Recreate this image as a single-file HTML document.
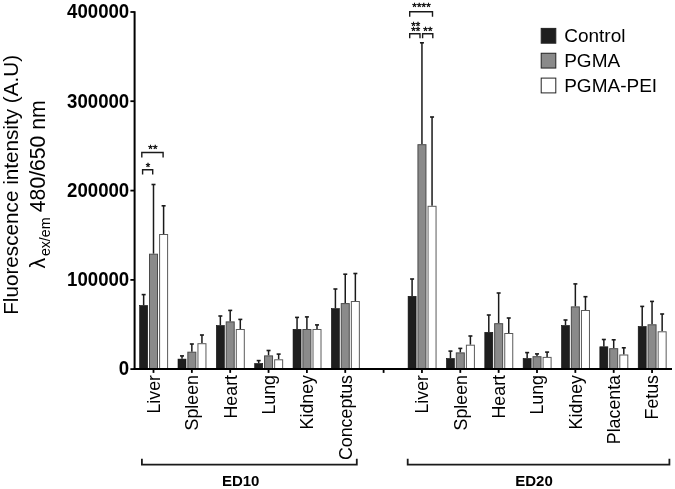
<!DOCTYPE html>
<html><head><meta charset="utf-8"><style>
html,body{margin:0;padding:0;background:#fff;}
body{width:675px;height:489px;overflow:hidden;}
svg{display:block;}
</style></head><body>
<svg width="675" height="489" viewBox="0 0 675 489" font-family='"Liberation Sans", Arial, Helvetica, sans-serif'>
<rect width="675" height="489" fill="#fff"/>
<line x1="143.65" y1="305.20" x2="143.65" y2="294.60" stroke="#1a1a1a" stroke-width="1.5"/>
<line x1="141.65" y1="294.60" x2="145.65" y2="294.60" stroke="#1a1a1a" stroke-width="1.6"/>
<rect x="139.65" y="305.50" width="8.0" height="63.60" fill="#1e1e1e" stroke="#0c0c0c" stroke-width="0.6"/>
<line x1="153.50" y1="253.70" x2="153.50" y2="184.50" stroke="#1a1a1a" stroke-width="1.5"/>
<line x1="151.50" y1="184.50" x2="155.50" y2="184.50" stroke="#1a1a1a" stroke-width="1.6"/>
<rect x="149.50" y="254.20" width="8.0" height="114.90" fill="#8a8a8a" stroke="#4a4a4a" stroke-width="1"/>
<line x1="163.60" y1="234.00" x2="163.60" y2="205.80" stroke="#1a1a1a" stroke-width="1.5"/>
<line x1="161.60" y1="205.80" x2="165.60" y2="205.80" stroke="#1a1a1a" stroke-width="1.6"/>
<rect x="159.60" y="234.50" width="8.0" height="134.60" fill="#fff" stroke="#5a5a5a" stroke-width="1"/>
<line x1="182.00" y1="358.80" x2="182.00" y2="355.90" stroke="#1a1a1a" stroke-width="1.5"/>
<line x1="180.00" y1="355.90" x2="184.00" y2="355.90" stroke="#1a1a1a" stroke-width="1.6"/>
<rect x="178.00" y="359.10" width="8.0" height="10.00" fill="#1e1e1e" stroke="#0c0c0c" stroke-width="0.6"/>
<line x1="191.85" y1="351.70" x2="191.85" y2="344.00" stroke="#1a1a1a" stroke-width="1.5"/>
<line x1="189.85" y1="344.00" x2="193.85" y2="344.00" stroke="#1a1a1a" stroke-width="1.6"/>
<rect x="187.85" y="352.20" width="8.0" height="16.90" fill="#8a8a8a" stroke="#4a4a4a" stroke-width="1"/>
<line x1="201.95" y1="343.20" x2="201.95" y2="335.00" stroke="#1a1a1a" stroke-width="1.5"/>
<line x1="199.95" y1="335.00" x2="203.95" y2="335.00" stroke="#1a1a1a" stroke-width="1.6"/>
<rect x="197.95" y="343.70" width="8.0" height="25.40" fill="#fff" stroke="#5a5a5a" stroke-width="1"/>
<line x1="220.35" y1="325.20" x2="220.35" y2="316.00" stroke="#1a1a1a" stroke-width="1.5"/>
<line x1="218.35" y1="316.00" x2="222.35" y2="316.00" stroke="#1a1a1a" stroke-width="1.6"/>
<rect x="216.35" y="325.50" width="8.0" height="43.60" fill="#1e1e1e" stroke="#0c0c0c" stroke-width="0.6"/>
<line x1="230.20" y1="321.40" x2="230.20" y2="310.40" stroke="#1a1a1a" stroke-width="1.5"/>
<line x1="228.20" y1="310.40" x2="232.20" y2="310.40" stroke="#1a1a1a" stroke-width="1.6"/>
<rect x="226.20" y="321.90" width="8.0" height="47.20" fill="#8a8a8a" stroke="#4a4a4a" stroke-width="1"/>
<line x1="240.30" y1="329.00" x2="240.30" y2="319.40" stroke="#1a1a1a" stroke-width="1.5"/>
<line x1="238.30" y1="319.40" x2="242.30" y2="319.40" stroke="#1a1a1a" stroke-width="1.6"/>
<rect x="236.30" y="329.50" width="8.0" height="39.60" fill="#fff" stroke="#5a5a5a" stroke-width="1"/>
<line x1="258.70" y1="363.20" x2="258.70" y2="360.60" stroke="#1a1a1a" stroke-width="1.5"/>
<line x1="256.70" y1="360.60" x2="260.70" y2="360.60" stroke="#1a1a1a" stroke-width="1.6"/>
<rect x="254.70" y="363.50" width="8.0" height="5.60" fill="#1e1e1e" stroke="#0c0c0c" stroke-width="0.6"/>
<line x1="268.55" y1="355.40" x2="268.55" y2="350.50" stroke="#1a1a1a" stroke-width="1.5"/>
<line x1="266.55" y1="350.50" x2="270.55" y2="350.50" stroke="#1a1a1a" stroke-width="1.6"/>
<rect x="264.55" y="355.90" width="8.0" height="13.20" fill="#8a8a8a" stroke="#4a4a4a" stroke-width="1"/>
<line x1="278.65" y1="359.30" x2="278.65" y2="354.10" stroke="#1a1a1a" stroke-width="1.5"/>
<line x1="276.65" y1="354.10" x2="280.65" y2="354.10" stroke="#1a1a1a" stroke-width="1.6"/>
<rect x="274.65" y="359.80" width="8.0" height="9.30" fill="#fff" stroke="#5a5a5a" stroke-width="1"/>
<line x1="297.05" y1="329.00" x2="297.05" y2="317.40" stroke="#1a1a1a" stroke-width="1.5"/>
<line x1="295.05" y1="317.40" x2="299.05" y2="317.40" stroke="#1a1a1a" stroke-width="1.6"/>
<rect x="293.05" y="329.30" width="8.0" height="39.80" fill="#1e1e1e" stroke="#0c0c0c" stroke-width="0.6"/>
<line x1="306.90" y1="329.00" x2="306.90" y2="316.90" stroke="#1a1a1a" stroke-width="1.5"/>
<line x1="304.90" y1="316.90" x2="308.90" y2="316.90" stroke="#1a1a1a" stroke-width="1.6"/>
<rect x="302.90" y="329.50" width="8.0" height="39.60" fill="#8a8a8a" stroke="#4a4a4a" stroke-width="1"/>
<line x1="317.00" y1="329.00" x2="317.00" y2="324.90" stroke="#1a1a1a" stroke-width="1.5"/>
<line x1="315.00" y1="324.90" x2="319.00" y2="324.90" stroke="#1a1a1a" stroke-width="1.6"/>
<rect x="313.00" y="329.50" width="8.0" height="39.60" fill="#fff" stroke="#5a5a5a" stroke-width="1"/>
<line x1="335.40" y1="308.30" x2="335.40" y2="289.00" stroke="#1a1a1a" stroke-width="1.5"/>
<line x1="333.40" y1="289.00" x2="337.40" y2="289.00" stroke="#1a1a1a" stroke-width="1.6"/>
<rect x="331.40" y="308.60" width="8.0" height="60.50" fill="#1e1e1e" stroke="#0c0c0c" stroke-width="0.6"/>
<line x1="345.25" y1="303.10" x2="345.25" y2="274.20" stroke="#1a1a1a" stroke-width="1.5"/>
<line x1="343.25" y1="274.20" x2="347.25" y2="274.20" stroke="#1a1a1a" stroke-width="1.6"/>
<rect x="341.25" y="303.60" width="8.0" height="65.50" fill="#8a8a8a" stroke="#4a4a4a" stroke-width="1"/>
<line x1="355.35" y1="301.00" x2="355.35" y2="273.50" stroke="#1a1a1a" stroke-width="1.5"/>
<line x1="353.35" y1="273.50" x2="357.35" y2="273.50" stroke="#1a1a1a" stroke-width="1.6"/>
<rect x="351.35" y="301.50" width="8.0" height="67.60" fill="#fff" stroke="#5a5a5a" stroke-width="1"/>
<line x1="412.10" y1="296.00" x2="412.10" y2="279.00" stroke="#1a1a1a" stroke-width="1.5"/>
<line x1="410.10" y1="279.00" x2="414.10" y2="279.00" stroke="#1a1a1a" stroke-width="1.6"/>
<rect x="408.10" y="296.30" width="8.0" height="72.80" fill="#1e1e1e" stroke="#0c0c0c" stroke-width="0.6"/>
<line x1="421.95" y1="144.20" x2="421.95" y2="42.80" stroke="#1a1a1a" stroke-width="1.5"/>
<line x1="419.95" y1="42.80" x2="423.95" y2="42.80" stroke="#1a1a1a" stroke-width="1.6"/>
<rect x="417.95" y="144.70" width="8.0" height="224.40" fill="#8a8a8a" stroke="#4a4a4a" stroke-width="1"/>
<line x1="432.05" y1="205.80" x2="432.05" y2="117.00" stroke="#1a1a1a" stroke-width="1.5"/>
<line x1="430.05" y1="117.00" x2="434.05" y2="117.00" stroke="#1a1a1a" stroke-width="1.6"/>
<rect x="428.05" y="206.30" width="8.0" height="162.80" fill="#fff" stroke="#5a5a5a" stroke-width="1"/>
<line x1="450.45" y1="358.20" x2="450.45" y2="351.10" stroke="#1a1a1a" stroke-width="1.5"/>
<line x1="448.45" y1="351.10" x2="452.45" y2="351.10" stroke="#1a1a1a" stroke-width="1.6"/>
<rect x="446.45" y="358.50" width="8.0" height="10.60" fill="#1e1e1e" stroke="#0c0c0c" stroke-width="0.6"/>
<line x1="460.30" y1="352.40" x2="460.30" y2="348.40" stroke="#1a1a1a" stroke-width="1.5"/>
<line x1="458.30" y1="348.40" x2="462.30" y2="348.40" stroke="#1a1a1a" stroke-width="1.6"/>
<rect x="456.30" y="352.90" width="8.0" height="16.20" fill="#8a8a8a" stroke="#4a4a4a" stroke-width="1"/>
<line x1="470.40" y1="344.70" x2="470.40" y2="336.00" stroke="#1a1a1a" stroke-width="1.5"/>
<line x1="468.40" y1="336.00" x2="472.40" y2="336.00" stroke="#1a1a1a" stroke-width="1.6"/>
<rect x="466.40" y="345.20" width="8.0" height="23.90" fill="#fff" stroke="#5a5a5a" stroke-width="1"/>
<line x1="488.80" y1="332.00" x2="488.80" y2="315.00" stroke="#1a1a1a" stroke-width="1.5"/>
<line x1="486.80" y1="315.00" x2="490.80" y2="315.00" stroke="#1a1a1a" stroke-width="1.6"/>
<rect x="484.80" y="332.30" width="8.0" height="36.80" fill="#1e1e1e" stroke="#0c0c0c" stroke-width="0.6"/>
<line x1="498.65" y1="323.20" x2="498.65" y2="293.00" stroke="#1a1a1a" stroke-width="1.5"/>
<line x1="496.65" y1="293.00" x2="500.65" y2="293.00" stroke="#1a1a1a" stroke-width="1.6"/>
<rect x="494.65" y="323.70" width="8.0" height="45.40" fill="#8a8a8a" stroke="#4a4a4a" stroke-width="1"/>
<line x1="508.75" y1="333.00" x2="508.75" y2="318.00" stroke="#1a1a1a" stroke-width="1.5"/>
<line x1="506.75" y1="318.00" x2="510.75" y2="318.00" stroke="#1a1a1a" stroke-width="1.6"/>
<rect x="504.75" y="333.50" width="8.0" height="35.60" fill="#fff" stroke="#5a5a5a" stroke-width="1"/>
<line x1="527.15" y1="358.20" x2="527.15" y2="352.60" stroke="#1a1a1a" stroke-width="1.5"/>
<line x1="525.15" y1="352.60" x2="529.15" y2="352.60" stroke="#1a1a1a" stroke-width="1.6"/>
<rect x="523.15" y="358.50" width="8.0" height="10.60" fill="#1e1e1e" stroke="#0c0c0c" stroke-width="0.6"/>
<line x1="537.00" y1="356.20" x2="537.00" y2="353.90" stroke="#1a1a1a" stroke-width="1.5"/>
<line x1="535.00" y1="353.90" x2="539.00" y2="353.90" stroke="#1a1a1a" stroke-width="1.6"/>
<rect x="533.00" y="356.70" width="8.0" height="12.40" fill="#8a8a8a" stroke="#4a4a4a" stroke-width="1"/>
<line x1="547.10" y1="356.90" x2="547.10" y2="352.10" stroke="#1a1a1a" stroke-width="1.5"/>
<line x1="545.10" y1="352.10" x2="549.10" y2="352.10" stroke="#1a1a1a" stroke-width="1.6"/>
<rect x="543.10" y="357.40" width="8.0" height="11.70" fill="#fff" stroke="#5a5a5a" stroke-width="1"/>
<line x1="565.50" y1="325.20" x2="565.50" y2="320.00" stroke="#1a1a1a" stroke-width="1.5"/>
<line x1="563.50" y1="320.00" x2="567.50" y2="320.00" stroke="#1a1a1a" stroke-width="1.6"/>
<rect x="561.50" y="325.50" width="8.0" height="43.60" fill="#1e1e1e" stroke="#0c0c0c" stroke-width="0.6"/>
<line x1="575.35" y1="306.40" x2="575.35" y2="283.90" stroke="#1a1a1a" stroke-width="1.5"/>
<line x1="573.35" y1="283.90" x2="577.35" y2="283.90" stroke="#1a1a1a" stroke-width="1.6"/>
<rect x="571.35" y="306.90" width="8.0" height="62.20" fill="#8a8a8a" stroke="#4a4a4a" stroke-width="1"/>
<line x1="585.45" y1="310.00" x2="585.45" y2="296.70" stroke="#1a1a1a" stroke-width="1.5"/>
<line x1="583.45" y1="296.70" x2="587.45" y2="296.70" stroke="#1a1a1a" stroke-width="1.6"/>
<rect x="581.45" y="310.50" width="8.0" height="58.60" fill="#fff" stroke="#5a5a5a" stroke-width="1"/>
<line x1="603.85" y1="346.50" x2="603.85" y2="339.50" stroke="#1a1a1a" stroke-width="1.5"/>
<line x1="601.85" y1="339.50" x2="605.85" y2="339.50" stroke="#1a1a1a" stroke-width="1.6"/>
<rect x="599.85" y="346.80" width="8.0" height="22.30" fill="#1e1e1e" stroke="#0c0c0c" stroke-width="0.6"/>
<line x1="613.70" y1="348.20" x2="613.70" y2="339.80" stroke="#1a1a1a" stroke-width="1.5"/>
<line x1="611.70" y1="339.80" x2="615.70" y2="339.80" stroke="#1a1a1a" stroke-width="1.6"/>
<rect x="609.70" y="348.70" width="8.0" height="20.40" fill="#8a8a8a" stroke="#4a4a4a" stroke-width="1"/>
<line x1="623.80" y1="354.50" x2="623.80" y2="347.80" stroke="#1a1a1a" stroke-width="1.5"/>
<line x1="621.80" y1="347.80" x2="625.80" y2="347.80" stroke="#1a1a1a" stroke-width="1.6"/>
<rect x="619.80" y="355.00" width="8.0" height="14.10" fill="#fff" stroke="#5a5a5a" stroke-width="1"/>
<line x1="642.20" y1="326.20" x2="642.20" y2="306.40" stroke="#1a1a1a" stroke-width="1.5"/>
<line x1="640.20" y1="306.40" x2="644.20" y2="306.40" stroke="#1a1a1a" stroke-width="1.6"/>
<rect x="638.20" y="326.50" width="8.0" height="42.60" fill="#1e1e1e" stroke="#0c0c0c" stroke-width="0.6"/>
<line x1="652.05" y1="324.30" x2="652.05" y2="301.40" stroke="#1a1a1a" stroke-width="1.5"/>
<line x1="650.05" y1="301.40" x2="654.05" y2="301.40" stroke="#1a1a1a" stroke-width="1.6"/>
<rect x="648.05" y="324.80" width="8.0" height="44.30" fill="#8a8a8a" stroke="#4a4a4a" stroke-width="1"/>
<line x1="662.15" y1="331.30" x2="662.15" y2="314.00" stroke="#1a1a1a" stroke-width="1.5"/>
<line x1="660.15" y1="314.00" x2="664.15" y2="314.00" stroke="#1a1a1a" stroke-width="1.6"/>
<rect x="658.15" y="331.80" width="8.0" height="37.30" fill="#fff" stroke="#5a5a5a" stroke-width="1"/>
<line x1="134.6" y1="11.2" x2="134.6" y2="370.1" stroke="#000" stroke-width="2"/>
<line x1="133.6" y1="369.1" x2="672" y2="369.1" stroke="#000" stroke-width="2"/>
<line x1="130.4" y1="369.1" x2="134.6" y2="369.1" stroke="#000" stroke-width="1.8"/>
<text transform="translate(129.2,375.4) scale(0.965,1)" font-size="19.3" font-weight="bold" text-anchor="end">0</text>
<line x1="130.4" y1="279.9" x2="134.6" y2="279.9" stroke="#000" stroke-width="1.8"/>
<text transform="translate(129.2,286.2) scale(0.965,1)" font-size="19.3" font-weight="bold" text-anchor="end">100000</text>
<line x1="130.4" y1="190.6" x2="134.6" y2="190.6" stroke="#000" stroke-width="1.8"/>
<text transform="translate(129.2,196.9) scale(0.965,1)" font-size="19.3" font-weight="bold" text-anchor="end">200000</text>
<line x1="130.4" y1="101.2" x2="134.6" y2="101.2" stroke="#000" stroke-width="1.8"/>
<text transform="translate(129.2,107.5) scale(0.965,1)" font-size="19.3" font-weight="bold" text-anchor="end">300000</text>
<line x1="130.4" y1="12.0" x2="134.6" y2="12.0" stroke="#000" stroke-width="1.8"/>
<text transform="translate(129.2,18.3) scale(0.965,1)" font-size="19.3" font-weight="bold" text-anchor="end">400000</text>
<line x1="153.50" y1="369.1" x2="153.50" y2="372.9" stroke="#000" stroke-width="1.8"/>
<line x1="191.85" y1="369.1" x2="191.85" y2="372.9" stroke="#000" stroke-width="1.8"/>
<line x1="230.20" y1="369.1" x2="230.20" y2="372.9" stroke="#000" stroke-width="1.8"/>
<line x1="268.55" y1="369.1" x2="268.55" y2="372.9" stroke="#000" stroke-width="1.8"/>
<line x1="306.90" y1="369.1" x2="306.90" y2="372.9" stroke="#000" stroke-width="1.8"/>
<line x1="345.25" y1="369.1" x2="345.25" y2="372.9" stroke="#000" stroke-width="1.8"/>
<line x1="383.60" y1="369.1" x2="383.60" y2="372.9" stroke="#000" stroke-width="1.8"/>
<line x1="421.95" y1="369.1" x2="421.95" y2="372.9" stroke="#000" stroke-width="1.8"/>
<line x1="460.30" y1="369.1" x2="460.30" y2="372.9" stroke="#000" stroke-width="1.8"/>
<line x1="498.65" y1="369.1" x2="498.65" y2="372.9" stroke="#000" stroke-width="1.8"/>
<line x1="537.00" y1="369.1" x2="537.00" y2="372.9" stroke="#000" stroke-width="1.8"/>
<line x1="575.35" y1="369.1" x2="575.35" y2="372.9" stroke="#000" stroke-width="1.8"/>
<line x1="613.70" y1="369.1" x2="613.70" y2="372.9" stroke="#000" stroke-width="1.8"/>
<line x1="652.05" y1="369.1" x2="652.05" y2="372.9" stroke="#000" stroke-width="1.8"/>
<text transform="translate(159.80,375) rotate(-90)" font-size="17.8" text-anchor="end">Liver</text>
<text transform="translate(198.15,375) rotate(-90)" font-size="17.8" text-anchor="end">Spleen</text>
<text transform="translate(236.50,375) rotate(-90)" font-size="17.8" text-anchor="end">Heart</text>
<text transform="translate(274.85,375) rotate(-90)" font-size="17.8" text-anchor="end">Lung</text>
<text transform="translate(313.20,375) rotate(-90)" font-size="17.8" text-anchor="end">Kidney</text>
<text transform="translate(351.55,375) rotate(-90)" font-size="17.8" text-anchor="end">Conceptus</text>
<text transform="translate(428.25,375) rotate(-90)" font-size="17.8" text-anchor="end">Liver</text>
<text transform="translate(466.60,375) rotate(-90)" font-size="17.8" text-anchor="end">Spleen</text>
<text transform="translate(504.95,375) rotate(-90)" font-size="17.8" text-anchor="end">Heart</text>
<text transform="translate(543.30,375) rotate(-90)" font-size="17.8" text-anchor="end">Lung</text>
<text transform="translate(581.65,375) rotate(-90)" font-size="17.8" text-anchor="end">Kidney</text>
<text transform="translate(620.00,375) rotate(-90)" font-size="17.8" text-anchor="end">Placenta</text>
<text transform="translate(658.35,375) rotate(-90)" font-size="17.8" text-anchor="end">Fetus</text>
<path d="M141.9,458.8 V464.6 H356.8 V458.8" fill="none" stroke="#1a1a1a" stroke-width="1.8"/>
<path d="M407.7,458.8 V464.6 H669.4 V458.8" fill="none" stroke="#1a1a1a" stroke-width="1.8"/>
<text x="240.7" y="485.8" font-size="15" font-weight="bold" text-anchor="middle">ED10</text>
<text x="534" y="485.8" font-size="15" font-weight="bold" text-anchor="middle">ED20</text>
<path d="M141.8,157.5 V152.5 H163.1 V157.5" fill="none" stroke="#1a1a1a" stroke-width="1.4"/>
<text x="153.0" y="152.6" font-size="11.5" letter-spacing="0.15" stroke="#000" stroke-width="0.35" text-anchor="middle">**</text>
<path d="M142.6,174.5 V169.7 H152.7 V174.5" fill="none" stroke="#1a1a1a" stroke-width="1.4"/>
<text x="148.0" y="171.2" font-size="11.5" letter-spacing="0.15" stroke="#000" stroke-width="0.35" text-anchor="middle">*</text>
<path d="M409.7,16.7 V11.7 H432.5 V16.7" fill="none" stroke="#1a1a1a" stroke-width="1.4"/>
<text x="421.6" y="10.6" font-size="11.5" letter-spacing="0.15" stroke="#000" stroke-width="0.35" text-anchor="middle">****</text>
<path d="M409.7,38.3 V33.8 H420.0 V38.3" fill="none" stroke="#1a1a1a" stroke-width="1.4"/>
<path d="M422.6,38.3 V33.8 H432.8 V38.3" fill="none" stroke="#1a1a1a" stroke-width="1.4"/>
<text x="415.8" y="30.0" font-size="11.5" letter-spacing="0.15" stroke="#000" stroke-width="0.35" text-anchor="middle">**</text>
<text x="415.8" y="34.8" font-size="11.5" letter-spacing="0.15" stroke="#000" stroke-width="0.35" text-anchor="middle">**</text>
<text x="428.0" y="34.8" font-size="11.5" letter-spacing="0.15" stroke="#000" stroke-width="0.35" text-anchor="middle">**</text>
<rect x="541.2" y="28.40" width="14.6" height="14.8" fill="#1e1e1e" stroke="#222" stroke-width="1"/>
<text x="564.2" y="42.30" font-size="19">Control</text>
<rect x="541.2" y="53.25" width="14.6" height="14.8" fill="#8a8a8a" stroke="#222" stroke-width="1"/>
<text x="564.2" y="67.15" font-size="19">PGMA</text>
<rect x="541.2" y="78.10" width="14.6" height="14.8" fill="#fff" stroke="#222" stroke-width="1"/>
<text x="564.2" y="92.00" font-size="19">PGMA-PEI</text>
<text transform="translate(18.4,314.8) rotate(-90)" font-size="20.7">Fluorescence intensity (A.U)</text>
<text transform="translate(45.2,268.5) rotate(-90)" font-size="21.2">&#955;<tspan font-size="14.2" dx="1.8" dy="5">ex/em</tspan><tspan dx="-0.6" dy="-5"> 480/650 nm</tspan></text>
</svg>
</body></html>
